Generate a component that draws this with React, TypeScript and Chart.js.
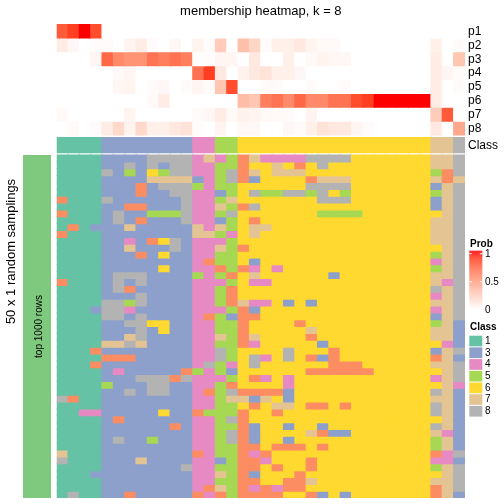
import React, { useEffect, useRef } from "react";
import { Chart, registerables } from "chart.js";
Chart.register(...registerables);

// ---------- data ----------
const sampleIds = [
  "s1","s2","s3","s4","s5","s6","s7","s8","s9","s10","s11","s12",
  "s13","s14","s15","s16","s17","s18","s19","s20","s21","s22","s23","s24",
  "s25","s26","s27","s28","s29","s30","s31","s32","s33","s34","s35","s36",
];

const probLabels = ["p1", "p2", "p3", "p4", "p5", "p6", "p7", "p8"];

const p1 = [0.8,0.9,1.0,0.85,0,0,0,0,0,0,0,0,0,0,0,0,0,0,0,0,0,0,0,0,0,0,0,0,0,0,0,0,0,0,0,0];
const p2 = [0.1,0.04,0,0.02,0.02,0,0.06,0.1,0.02,0,0.04,0,0.06,0.02,0.27,0,0.33,0.22,0.02,0.08,0.08,0.12,0.06,0.03,0.03,0,0,0,0,0,0,0,0,0.08,0,0.02];
const p3 = [0,0,0,0.05,0.75,0.6,0.55,0.55,0.7,0.65,0.7,0.65,0.01,0.01,0.05,0.05,0,0.12,0,0,0.08,0,0.03,0.06,0.04,0.04,0,0,0,0,0,0,0,0.1,0,0.3];
const p4 = [0,0,0,0,0,0.03,0.05,0,0,0,0,0,0.7,0.9,0.12,0,0.07,0.12,0.15,0.08,0.08,0.04,0,0,0,0,0,0,0,0,0,0,0,0.1,0.05,0.02];
const p5 = [0,0,0,0,0,0.04,0.06,0,0.02,0.04,0,0.02,0.05,0.02,0.3,0.85,0,0,0.02,0.02,0,0,0.02,0,0,0.02,0,0,0,0,0,0,0,0.1,0,0.02];
const p6 = [0,0,0,0,0,0,0,0,0.03,0.1,0,0,0,0,0,0,0.35,0.3,0.65,0.7,0.6,0.75,0.6,0.6,0.7,0.7,0.85,0.9,1,1,1,1,1,0.1,0,0];
const p7 = [0.03,0,0,0,0,0,0.06,0,0,0,0,0,0.02,0.04,0.1,0.03,0.07,0.06,0.03,0.03,0.02,0,0.06,0,0,0,0,0,0,0,0,0,0,0.27,0.8,0];
const p8 = [0,0.03,0,0.02,0.1,0.2,0.06,0.2,0.08,0.08,0.12,0.15,0.02,0,0.06,0,0.04,0.04,0,0,0.04,0.02,0.08,0.15,0.12,0.12,0.05,0.02,0,0,0,0,0,0.12,0,0.45];

const columnClass = ["1","1","1","1","3","3","3","3","3","3","3","3","4","4","5","5","6","6","6","6","6","6","6","6","6","6","6","6","6","6","6","6","6","7","7","8"];

// 50 random samplings x 36 samples, class per cell
const samplingRows = [
  "111133338888474527444488886666666778",
  "111133838388445526676268666666666778",
  "111183536588445827677766666666666528",
  "111133337777345823666627776666666727",
  "111133323888545566666688886666666378",
  "111133323388443568558858656666666578",
  "211183333338445766666668886666666378",
  "111133223338447528666666666666666378",
  "211138335558445866666665555666666678",
  "111138323338443562666666666666666778",
  "121333733333747567766666666666666778",
  "211133333333775467666666666666666778",
  "111133432683444566666666666666666778",
  "111133733383447526666666666666666678",
  "111133323633445566666666666666666578",
  "111133333333425563666666666666666478",
  "111133333633442524646666666666666578",
  "111138883333545267666666366666666778",
  "211138383333444564466666666666666748",
  "111138233333445266666666666666666878",
  "111133383333445266666666666666666478",
  "111188583333445274463636666666666778",
  "111388433333444523666666666666666478",
  "111188383333425322666666666666666378",
  "111133886633445526666266666666666573",
  "111133383633445526666676666666666773",
  "111133783333447527666626666666666773",
  "111177873333445524666663666666666643",
  "111233333333448566668666266666666378",
  "111122233333448568468623266666666273",
  "111233333333485468666666222666666778",
  "111134333332545366666622222266666678",
  "111133388828444562464666666666666478",
  "111153338833445266664666666666666674",
  "111133838833425822223666666666666873",
  "821133333333445773763666666666666773",
  "111133333333445562677622626666666873",
  "114433333633255526626666666666666873",
  "111132333333445826666666666666666673",
  "111133333323445523663663666666666873",
  "111133333333445823666672336666666743",
  "111138335333445823663666666666666573",
  "111133333333445522622262666666666573",
  "711133333333245524266666666666666248",
  "811133373333443522466626666666666443",
  "111133333338445522626626666666666578",
  "111333333333447523666266666666666678",
  "111133333333445522662276666666666778",
  "111133333333427524242266666666666278",
  "181133233333242522226623636666666273",
];

const classLegend = ["1", "3", "4", "5", "6", "7", "8"];
const probTicks = ["1", "0.5", "0"];

// ---------- styles ----------
const classColors: Record<string, string> = {
  "1": "#66C2A5", "2": "#FC8D62", "3": "#8DA0CB", "4": "#E78AC3",
  "5": "#A6D854", "6": "#FFD92F", "7": "#E5C494", "8": "#B3B3B3",
};
const FONT = "'Liberation Sans', Arial, Helvetica, sans-serif";

function labToRgb(L: number, a: number, b: number): string {
  const fy = (L + 16) / 116, fx = fy + a / 500, fz = fy - b / 200;
  const finv = (t: number) => (t ** 3 > 0.008856 ? t ** 3 : (t - 16 / 116) / 7.787);
  const X = 0.95047 * finv(fx), Y = finv(fy), Z = 1.08883 * finv(fz);
  const lin = [
    3.2406 * X - 1.5372 * Y - 0.4986 * Z,
    -0.9689 * X + 1.8758 * Y + 0.0415 * Z,
    0.0557 * X - 0.204 * Y + 1.057 * Z,
  ];
  const c = lin.map((v) => {
    const g = v <= 0.0031308 ? 12.92 * v : 1.055 * Math.pow(Math.max(v, 0), 1 / 2.4) - 0.055;
    return Math.round(Math.min(1, Math.max(0, g)) * 255);
  });
  return `rgb(${c[0]},${c[1]},${c[2]})`;
}
function probColor(v: number): string {
  const t = Math.min(1, Math.max(0, v));
  return labToRgb(100 - 46.76 * t, 80.09 * t, 67.2 * t);
}

// geometry (y units)
const PROB_H = 13.875;
const CLASS_TOP = 113.7, CLASS_BOT = 128.7;
const MAT_TOP = 131, MAT_H = 6.86;
const Y_MAX = 474;

export default function App() {
  const ref = useRef<HTMLCanvasElement | null>(null);
  useEffect(() => {
    if (!ref.current) return;
    const probs = [p1, p2, p3, p4, p5, p6, p7, p8];
    const datasets: any[] = [];
    probs.forEach((row, i) => {
      datasets.push({
        label: probLabels[i],
        data: row.map(() => [i * PROB_H, (i + 1) * PROB_H]),
        backgroundColor: row.map(probColor),
      });
    });
    datasets.push({
      label: "Class",
      data: columnClass.map(() => [CLASS_TOP, CLASS_BOT]),
      backgroundColor: columnClass.map((c) => classColors[c]),
    });
    samplingRows.forEach((row, r) => {
      datasets.push({
        label: `sampling ${r + 1}`,
        data: row.split("").map(() => [MAT_TOP + r * MAT_H, MAT_TOP + (r + 1) * MAT_H]),
        backgroundColor: row.split("").map((c) => classColors[c]),
      });
    });

    const annotate = {
      id: "annotate",
      afterDraw(chart: any) {
        const { ctx, chartArea } = chart;
        const y = chart.scales.y;
        ctx.save();
        ctx.fillStyle = "#000";
        // title
        ctx.font = `13px ${FONT}`;
        ctx.textAlign = "center";
        ctx.textBaseline = "alphabetic";
        ctx.fillText("membership heatmap, k = 8", (chartArea.left + chartArea.right) / 2, 15);
        // right labels
        ctx.font = `12px ${FONT}`;
        ctx.textAlign = "left";
        ctx.textBaseline = "middle";
        probLabels.forEach((lab, i) => {
          ctx.fillText(lab, chartArea.right + 3, y.getPixelForValue((i + 0.5) * PROB_H) + 0.5);
        });
        ctx.fillText("Class", chartArea.right + 3, y.getPixelForValue((CLASS_TOP + CLASS_BOT) / 2) + 0.5);
        // left annotation bar
        const mTop = y.getPixelForValue(MAT_TOP);
        const mBot = y.getPixelForValue(Y_MAX);
        ctx.fillStyle = "#7FC97F";
        ctx.fillRect(23, mTop, 28, mBot - mTop);
        ctx.fillStyle = "#000";
        ctx.save();
        ctx.translate(41.8, (mTop + mBot) / 2);
        ctx.rotate(-Math.PI / 2);
        ctx.font = `10px ${FONT}`;
        ctx.textAlign = "center";
        ctx.textBaseline = "alphabetic";
        ctx.fillText("top 1000 rows", 0, 0);
        ctx.restore();
        ctx.save();
        ctx.translate(15, 251.5);
        ctx.rotate(-Math.PI / 2);
        ctx.font = `13px ${FONT}`;
        ctx.textAlign = "center";
        ctx.textBaseline = "alphabetic";
        ctx.fillText("50 x 1 random samplings", 0, 0);
        ctx.restore();
        // Prob legend
        const lx = 469.3, lw = 13;
        ctx.font = `bold 10px ${FONT}`;
        ctx.textAlign = "left";
        ctx.textBaseline = "alphabetic";
        ctx.fillText("Prob", 470, 247);
        const gTop = 250.7, gBot = 312.7, v1 = 253.7, v0 = 309.7;
        for (let py = gTop; py < gBot; py += 1) {
          const v = (v0 - (py + 0.5)) / (v0 - v1);
          ctx.fillStyle = probColor(v);
          ctx.fillRect(lx, py, lw, 1.05);
        }
        ctx.strokeStyle = "#fff";
        ctx.lineWidth = 1;
        [v1, (v1 + v0) / 2].forEach((ty) => {
          ctx.beginPath();
          ctx.moveTo(lx, ty); ctx.lineTo(lx + 2.5, ty);
          ctx.moveTo(lx + lw - 2.5, ty); ctx.lineTo(lx + lw, ty);
          ctx.stroke();
        });
        ctx.fillStyle = "#000";
        ctx.font = `10px ${FONT}`;
        ctx.textBaseline = "middle";
        probTicks.forEach((t, i) => {
          ctx.fillText(t, 485, [v1, (v1 + v0) / 2, v0][i] + 0.3);
        });
        // Class legend
        ctx.font = `bold 10px ${FONT}`;
        ctx.textBaseline = "alphabetic";
        ctx.fillText("Class", 470, 330);
        ctx.font = `10px ${FONT}`;
        ctx.textBaseline = "middle";
        classLegend.forEach((c, i) => {
          const top = 335.2 + i * 11.7;
          ctx.fillStyle = classColors[c];
          ctx.fillRect(lx, top + 0.5, lw, 10.7);
          ctx.fillStyle = "#000";
          ctx.fillText(c, 485, top + 6);
        });
        ctx.restore();
      },
    };

    const chart = new Chart(ref.current, {
      type: "bar",
      data: { labels: sampleIds, datasets },
      options: {
        animation: false,
        responsive: false,
        devicePixelRatio: 1,
        events: [],
        layout: { padding: { left: 56.7, right: 39, top: 24, bottom: 6 } },
        datasets: {
          bar: {
            grouped: false,
            barPercentage: 1,
            categoryPercentage: 1,
            borderWidth: 0,
            inflateAmount: 0.6,
          },
        } as any,
        plugins: { legend: { display: false }, tooltip: { enabled: false }, title: { display: false } },
        scales: {
          x: { type: "category", display: false, offset: true, grid: { display: false } },
          y: { type: "linear", display: false, min: 0, max: Y_MAX, reverse: true, grid: { display: false } },
        },
      },
      plugins: [annotate],
    });
    return () => chart.destroy();
  }, []);
  return (
    <div style={{ position: "absolute", left: 0, top: 0, width: 504, height: 504, background: "#fff" }}>
      <canvas ref={ref} width={504} height={504} style={{ width: 504, height: 504 }} />
    </div>
  );
}
